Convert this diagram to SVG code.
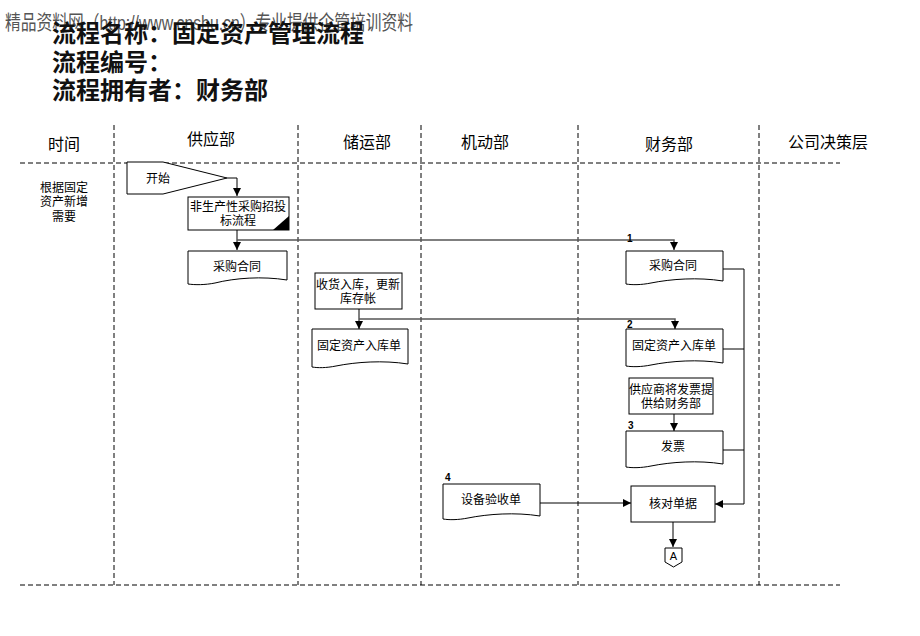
<svg xmlns="http://www.w3.org/2000/svg" width="920" height="636" viewBox="0 0 920 636">
<defs>
<style>
.t{font-family:"Liberation Sans","Noto Sans CJK SC",sans-serif;fill:#000;}
.n{font-size:12px;text-anchor:middle;}
.h{font-size:16px;text-anchor:middle;}
.title{font-family:"Liberation Serif","Noto Sans CJK SC",serif;font-size:24px;font-weight:bold;fill:#111;}
.box{fill:#fff;stroke:#000;stroke-width:1;}
.grid{stroke:#000;stroke-width:1;stroke-dasharray:5,3;fill:none;}
.c{fill:none;stroke:#000;stroke-width:1;}
.g{fill:none;stroke:#555;stroke-width:1.5;}
.num{font-family:"Liberation Sans",sans-serif;font-size:10px;font-weight:bold;}
</style>
<marker id="ar" viewBox="0 0 10 10" refX="10" refY="5" markerWidth="8" markerHeight="8" markerUnits="userSpaceOnUse" orient="auto">
<path d="M0,0 L10,5 L0,10 Z" fill="#000"/>
</marker>
</defs>
<rect width="920" height="636" fill="#fff"/>

<g id="header">
<text x="5" y="30" class="t" font-size="20" style="fill:#555" textLength="408" lengthAdjust="spacingAndGlyphs">精品资料网（http://www.cnshu.cn）专业提供企管培训资料</text>
<text x="52" y="42" class="title">流程名称：固定资产管理流程</text>
<text x="52" y="71" class="title">流程编号：</text>
<text x="52" y="99" class="title">流程拥有者：财务部</text>
</g>

<g id="grid">
<line class="grid" x1="20" y1="163" x2="840" y2="163"/>
<line class="grid" x1="20" y1="585" x2="840" y2="585"/>
<line class="grid" x1="114" y1="125" x2="114" y2="585"/>
<line class="grid" x1="298" y1="125" x2="298" y2="585"/>
<line class="grid" x1="421" y1="125" x2="421" y2="585"/>
<line class="grid" x1="578" y1="125" x2="578" y2="585"/>
<line class="grid" x1="759" y1="125" x2="759" y2="585"/>
</g>

<g id="lanes">
<text x="64" y="150" class="t h">时间</text>
<text x="211" y="145" class="t h">供应部</text>
<text x="367" y="148" class="t h">储运部</text>
<text x="485" y="148" class="t h">机动部</text>
<text x="669" y="150" class="t h">财务部</text>
<text x="828" y="148" class="t h">公司决策层</text>
<text x="64" y="192" class="t n">根据固定</text>
<text x="64" y="206" class="t n">资产新增</text>
<text x="64" y="221" class="t n">需要</text>
</g>

<g id="connectors">
<polyline class="c" points="227,178 237,178 237,196" marker-end="url(#ar)"/>
<line class="c" x1="237" y1="230" x2="237" y2="250" marker-end="url(#ar)"/>
<polyline class="g" points="237,240 674,240 674,248"/>
<line class="c" x1="674" y1="244" x2="674" y2="250" marker-end="url(#ar)"/>
<line class="c" x1="359" y1="309" x2="359" y2="329" marker-end="url(#ar)"/>
<polyline class="g" points="359,319 675,319 675,327"/>
<line class="c" x1="675" y1="323" x2="675" y2="329" marker-end="url(#ar)"/>
<line class="c" x1="674" y1="414" x2="674" y2="431" marker-end="url(#ar)"/>
<polyline class="c" points="723,269 744,269 744,504 715,504" marker-end="url(#ar)"/>
<line class="c" x1="723" y1="349" x2="744" y2="349"/>
<line class="c" x1="723" y1="450" x2="744" y2="450"/>
<line class="c" x1="540" y1="503" x2="631" y2="503" marker-end="url(#ar)"/>
<line class="c" x1="673" y1="522" x2="673" y2="547" marker-end="url(#ar)"/>
<text x="627" y="242" class="num">1</text>
<text x="627" y="328" class="num">2</text>
<text x="628" y="429" class="num">3</text>
<text x="445" y="481" class="num">4</text>
</g>

<g id="start">
<path class="box" d="M127,162 H163 L227,178 L163,194 H127 Z"/>
<text x="158" y="183" class="t n">开始</text>
</g>

<g id="bidding">
<rect class="box" x="188" y="197" width="101" height="33"/>
<path d="M289,216 V230 H273 Z" fill="#000"/>
<text x="238" y="211" class="t n">非生产性采购招投</text>
<text x="238" y="225" class="t n">标流程</text>
</g>

<g id="contract-supply">
<path class="box" d="M188,251 H287 V280 C262,276 235,278 215,283 C205,285 195,285 188,284 Z"/>
<text x="237" y="271" class="t n">采购合同</text>
</g>

<g id="receive">
<rect class="box" x="315" y="273" width="87" height="36"/>
<text x="358" y="289" class="t n">收货入库，更新</text>
<text x="358" y="303" class="t n">库存帐</text>
</g>

<g id="asset-storage">
<path class="box" d="M312,329 H408 V364 C383,360 356,362 336,366 C326,368 318,368 312,367 Z"/>
<text x="359" y="350" class="t n">固定资产入库单</text>
</g>

<g id="contract-finance">
<path class="box" d="M626,251 H723 V281 C698,277 671,279 651,283 C641,285 632,285 626,284 Z"/>
<text x="673" y="270" class="t n">采购合同</text>
</g>

<g id="asset-finance">
<path class="box" d="M626,329 H723 V363 C698,359 671,361 651,365 C641,367 632,367 626,366 Z"/>
<text x="674" y="350" class="t n">固定资产入库单</text>
</g>

<g id="supplier-invoice">
<rect class="box" x="629" y="378" width="84" height="36"/>
<text x="671" y="394" class="t n">供应商将发票提</text>
<text x="671" y="408" class="t n">供给财务部</text>
</g>

<g id="invoice">
<path class="box" d="M626,431 H723 V464 C698,460 671,462 651,466 C641,468 632,468 626,467 Z"/>
<text x="673" y="451" class="t n">发票</text>
</g>

<g id="acceptance">
<path class="box" d="M443,484 H540 V516 C515,512 488,514 468,518 C458,520 449,520 443,519 Z"/>
<text x="491" y="504" class="t n">设备验收单</text>
</g>

<g id="verify">
<rect class="box" x="631" y="486" width="84" height="36"/>
<text x="673" y="508" class="t n">核对单据</text>
</g>

<g id="offpage-A">
<path class="box" d="M665,548 H682 V562 L673.5,567 L665,562 Z"/>
<text x="673.5" y="560" class="t" font-size="11" text-anchor="middle">A</text>
</g>
</svg>
